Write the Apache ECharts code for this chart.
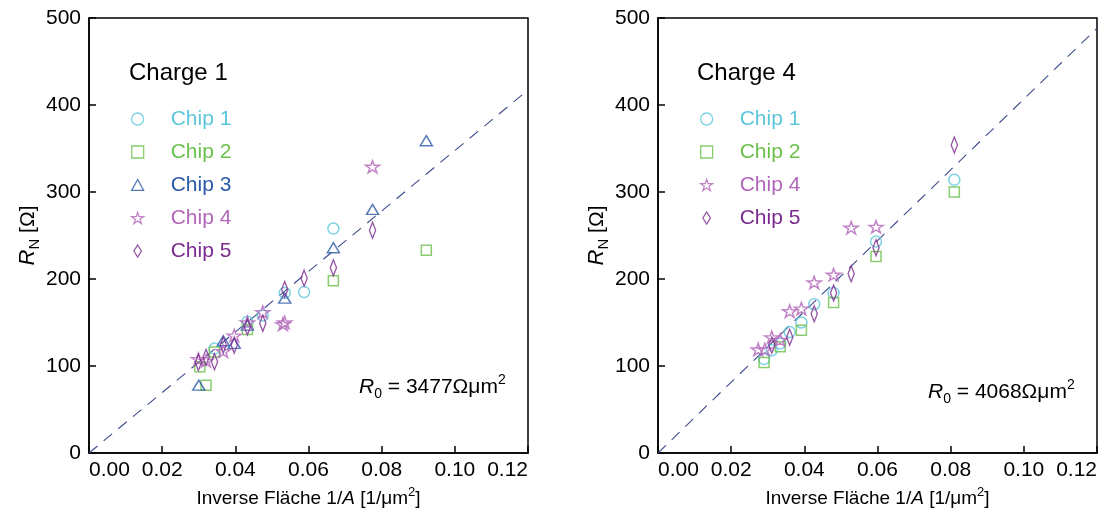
<!DOCTYPE html>
<html><head><meta charset="utf-8">
<script src="https://cdn.jsdelivr.net/npm/echarts@6/dist/echarts.min.js"></script>
<style>html,body{margin:0;padding:0;background:#fff}#c{width:1106px;height:521px}</style>
</head><body><div id="c"></div>
<script>
// ---------- data ----------
const xMin = 0, xMax = 0.12, xStep = 0.02;
const yMin = 0, yMax = 500, yStep = 100;
const panelTitles = ['Charge 1', 'Charge 4'];
const R0 = [3477, 4068];

// Charge 1 : [1/A, R_N]
const c1Chip1 = [[0.0343,120],[0.0433,151],[0.0475,158],[0.0535,184],[0.0588,185],[0.0668,258]];
const c1Chip2 = [[0.0320,78],[0.0303,99],[0.0343,116],[0.0433,142],[0.0668,198],[0.0922,233]];
const c1Chip3 = [[0.0300,78],[0.0367,129],[0.0397,126],[0.0433,147],[0.0535,178],[0.0668,236],[0.0775,280],[0.0922,359]];
const c1Chip4 = [[0.0299,108],[0.0320,106],[0.0367,117],[0.0397,135],[0.0433,150],[0.0475,162],[0.0535,150],[0.0530,148],[0.0775,329]];
const c1Chip5 = [[0.0299,104],[0.0320,110],[0.0343,105],[0.0367,124],[0.0397,124],[0.0433,145],[0.0475,149],[0.0535,188],[0.0588,201],[0.0668,213],[0.0775,256]];

// Charge 4 : [1/A, R_N]
const c4Chip1 = [[0.0290,108],[0.0311,118],[0.0334,126],[0.0360,139],[0.0392,150],[0.0427,171],[0.0480,184],[0.0596,243],[0.0810,314]];
const c4Chip2 = [[0.0290,104],[0.0334,122],[0.0392,141],[0.0480,173],[0.0596,226],[0.0810,300]];
const c4Chip4 = [[0.0274,119],[0.0292,119],[0.0311,133],[0.0334,130],[0.0360,163],[0.0392,166],[0.0427,196],[0.0480,205],[0.0528,259],[0.0596,260]];
const c4Chip5 = [[0.0311,124],[0.0360,133],[0.0427,160],[0.0480,184],[0.0528,206],[0.0596,236],[0.0810,354]];

// ---------- styles ----------
const FONT = '"Liberation Sans", Arial, Helvetica, sans-serif';
const COL = {'Chip 1':'#5ec6dc','Chip 2':'#6cc04c','Chip 3':'#2b5aa8','Chip 4':'#b266b9','Chip 5':'#7a2b8f'};
const SYM = {
  'Chip 1': 'circle',
  'Chip 2': 'rect',
  'Chip 3': 'path://M5.5,0 L11,10 L0,10 Z',
  'Chip 4': 'path://M50,0 L61.8,35.1 L98.9,35.1 L69,56.8 L80.3,91.9 L50,70.2 L19.7,91.9 L31,56.8 L1.1,35.1 L38.2,35.1 Z',
  'Chip 5': 'path://M5,0 L10,8 L5,16 L0,8 Z'
};
const SIZE = {'Chip 1':11,'Chip 2':10,'Chip 3':[12,11],'Chip 4':[14,13],'Chip 5':[10,16]};

const grids = [
  {left: 89, top: 18, width: 439, height: 435},
  {left: 658, top: 18, width: 439, height: 435}
];

const chart = echarts.init(document.getElementById('c'), null, {renderer: 'canvas'});

function xAxis(i) {
  return {
    gridIndex: i, type: 'value', min: xMin, max: xMax, interval: xStep,
    axisLine: {show: true, onZero: false, lineStyle: {color: '#000', width: 1.5}},
    axisTick: {show: true, inside: true, length: 7, lineStyle: {color: '#000', width: 1.5}},
    splitLine: {show: false},
    axisLabel: {color: '#000', fontFamily: FONT, fontSize: 21, margin: 7,
      formatter: v => v.toFixed(2), alignMinLabel: 'left', alignMaxLabel: 'right'},
    name: 'Inverse Fläche 1/{i|A} [1/μm{sup|2}]',
    nameLocation: 'middle', nameGap: 30,
    nameTextStyle: {color: '#000', fontFamily: FONT, fontSize: 19, lineHeight: 26,
      rich: {
        i: {fontStyle: 'italic', fontFamily: FONT, fontSize: 19, lineHeight: 26, color: '#000'},
        sup: {fontFamily: FONT, fontSize: 13, lineHeight: 13, verticalAlign: 'top', color: '#000'}
      }}
  };
}
function yAxis(i) {
  return {
    gridIndex: i, type: 'value', min: yMin, max: yMax, interval: yStep,
    axisLine: {show: true, onZero: false, lineStyle: {color: '#000', width: 1.5}},
    axisTick: {show: true, inside: true, length: 7, lineStyle: {color: '#000', width: 1.5}},
    splitLine: {show: false},
    axisLabel: {color: '#000', fontFamily: FONT, fontSize: 21, margin: 8},
    name: '{i|R}{sub|N} [Ω]',
    nameLocation: 'middle', nameGap: 44, nameRotate: 90,
    nameTextStyle: {color: '#000', fontFamily: FONT, fontSize: 21, lineHeight: 28,
      rich: {
        i: {fontStyle: 'italic', fontFamily: FONT, fontSize: 22, lineHeight: 28, color: '#000'},
        sub: {fontFamily: FONT, fontSize: 15, lineHeight: 15, verticalAlign: 'bottom', color: '#000'}
      }}
  };
}

function scatter(name, data, gi) {
  return {
    type: 'scatter', name: name, xAxisIndex: gi, yAxisIndex: gi,
    data: data, symbol: SYM[name], symbolSize: SIZE[name], symbolKeepAspect: true,
    itemStyle: {color: 'rgba(0,0,0,0)', borderColor: COL[name], borderWidth: 1.5},
    emphasis: {disabled: true}, z: 3
  };
}
function fitLine(gi) {
  return {
    type: 'line', name: 'fit' + gi, xAxisIndex: gi, yAxisIndex: gi,
    data: [[xMin, 0], [xMax, R0[gi] * xMax]], symbol: 'none',
    lineStyle: {color: '#3b4a8c', width: 1.1, type: [11, 8]}, z: 2, silent: true
  };
}
function legend(gi, names, left) {
  return {
    show: true, orient: 'vertical', left: left, top: 103, itemWidth: 12, itemHeight: 12, itemGap: 11,
    selectedMode: false,
    data: names.map(n => ({name: n, icon: SYM[n],
      itemStyle: {color: 'rgba(0,0,0,0)', borderColor: COL[n], borderWidth: 1.3},
      textStyle: {color: COL[n], fontFamily: FONT, fontSize: 21, lineHeight: 22, padding: [0, 0, 0, 22]}}))
  };
}
function r0Text(gi, left, top) {
  return {
    type: 'text', left: left, top: top,
    style: {
      text: '{i|R}{sub|0}{n| = ' + R0[gi] + 'Ωμm}{sup|2}',
      rich: {
        i: {fontStyle: 'italic', fontFamily: FONT, fontSize: 21, lineHeight: 28, fill: '#000'},
        n: {fontFamily: FONT, fontSize: 21, lineHeight: 28, fill: '#000'},
        sub: {fontFamily: FONT, fontSize: 14, lineHeight: 14, verticalAlign: 'bottom', fill: '#000'},
        sup: {fontFamily: FONT, fontSize: 14, lineHeight: 14, verticalAlign: 'top', fill: '#000'}
      }
    }
  };
}

const option = {
  animation: false,
  backgroundColor: '#fff',
  grid: grids.map(g => Object.assign({show: true, borderColor: '#000', borderWidth: 1.5, backgroundColor: 'transparent'}, g)),
  xAxis: [xAxis(0), xAxis(1)],
  yAxis: [yAxis(0), yAxis(1)],
  legend: [
    legend(0, ['Chip 1','Chip 2','Chip 3','Chip 4','Chip 5'], 126),
    legend(1, ['Chip 1','Chip 2','Chip 4','Chip 5'], 695)
  ],
  graphic: [
    {type: 'text', left: 129, top: 61, style: {text: panelTitles[0], fontFamily: FONT, fontSize: 24, fill: '#000'}},
    {type: 'text', left: 697, top: 61, style: {text: panelTitles[1], fontFamily: FONT, fontSize: 24, fill: '#000'}},
    r0Text(0, 359, 373),
    r0Text(1, 928, 378)
  ],
  series: [
    fitLine(0), fitLine(1),
    scatter('Chip 1', c1Chip1, 0), scatter('Chip 2', c1Chip2, 0), scatter('Chip 3', c1Chip3, 0),
    scatter('Chip 4', c1Chip4, 0), scatter('Chip 5', c1Chip5, 0),
    scatter('Chip 1', c4Chip1, 1), scatter('Chip 2', c4Chip2, 1),
    scatter('Chip 4', c4Chip4, 1), scatter('Chip 5', c4Chip5, 1)
  ]
};
chart.setOption(option);
</script>
</body></html>
